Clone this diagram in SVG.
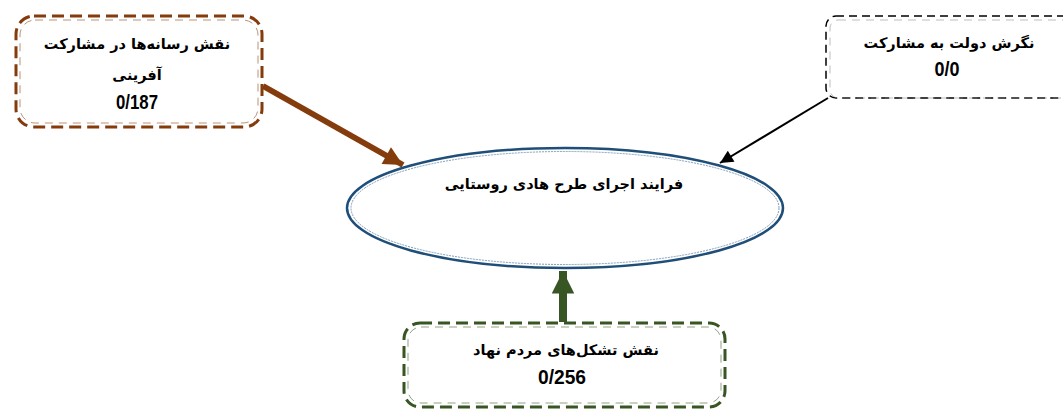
<svg xmlns="http://www.w3.org/2000/svg" width="1063" height="409" viewBox="0 0 1063 409">
<style>
.ar{font-family:"DejaVu Sans","Noto Sans",sans-serif;font-weight:bold;font-size:14.5px;fill:#000;text-anchor:middle;dominant-baseline:central}
.num{font-family:"Liberation Sans Narrow","Liberation Sans",sans-serif;font-weight:bold;font-size:20px;fill:#000;text-anchor:middle;dominant-baseline:central}
.inner{fill:none;stroke-width:1;stroke-dasharray:8 6;opacity:0.55}
</style>
<defs>
<marker id="hBrown" viewBox="0 0 10 10" refX="10" refY="5" markerWidth="3.6" markerHeight="3.2" orient="auto" markerUnits="strokeWidth"><path d="M0,0 L10,5 L0,10 Z" fill="#843C0C"/></marker>
<marker id="hBlack" viewBox="0 0 10 10" refX="10" refY="5" markerWidth="8" markerHeight="6.5" orient="auto" markerUnits="strokeWidth"><path d="M0,0 L10,5 L0,10 Z" fill="#000"/></marker>
<marker id="hGreen" viewBox="0 0 10 10" refX="10" refY="5" markerWidth="3.2" markerHeight="2.8" orient="auto" markerUnits="strokeWidth"><path d="M0,0 L10,5 L0,10 Z" fill="#375623"/></marker>
</defs>
<rect width="1063" height="409" fill="#fff"/>
<g id="connectors">
<line x1="263" y1="86" x2="403" y2="165" stroke="#843C0C" stroke-width="6" marker-end="url(#hBrown)"/>
<line x1="828" y1="98" x2="720" y2="163" stroke="#000" stroke-width="2" marker-end="url(#hBlack)"/>
<line x1="563" y1="322" x2="563" y2="271" stroke="#375623" stroke-width="8" marker-end="url(#hGreen)"/>
</g>
<g id="node-center">
<ellipse cx="565" cy="208" rx="218" ry="60" fill="none" stroke="#1F4E79" stroke-width="2.5"/>
<ellipse cx="565" cy="208" rx="214" ry="56.5" fill="none" stroke="#7f9cb8" stroke-width="1" stroke-dasharray="2 1"/>
<text class="ar" x="564" y="184" direction="rtl">فرایند اجرای طرح هادی روستایی</text>
</g>
<g id="node-media">
<rect x="16" y="16" width="246" height="111" rx="18" fill="none" stroke="#843C0C" stroke-width="3" stroke-dasharray="12 6"/>
<rect x="20" y="20" width="238" height="103" rx="15" class="inner" stroke="#843C0C"/>
<text class="ar" x="137" y="44" direction="rtl">نقش رسانه‌ها در مشارکت</text>
<text class="ar" x="137" y="75" direction="rtl">آفرینی</text>
<text class="num" x="137" y="102" textLength="42" lengthAdjust="spacingAndGlyphs">0/187</text>
</g>
<g id="node-government">
<rect x="826" y="16" width="260" height="82" rx="10" fill="none" stroke="#000" stroke-width="1.5" stroke-dasharray="8 5"/>
<rect x="830" y="20" width="252" height="78" rx="8" class="inner" stroke="#888"/>
<text class="ar" x="949" y="43" direction="rtl">نگرش دولت به مشارکت</text>
<text class="num" x="947" y="69" textLength="25" lengthAdjust="spacingAndGlyphs">0/0</text>
</g>
<g id="node-ngo">
<rect x="404" y="323" width="321" height="84" rx="16" fill="none" stroke="#375623" stroke-width="3" stroke-dasharray="12 6"/>
<rect x="408" y="327" width="313" height="76" rx="13" class="inner" stroke="#375623"/>
<text class="ar" x="566" y="350" direction="rtl">نقش تشکل‌های مردم نهاد</text>
<text class="num" x="562" y="377" textLength="48" lengthAdjust="spacingAndGlyphs">0/256</text>
</g>
</svg>
